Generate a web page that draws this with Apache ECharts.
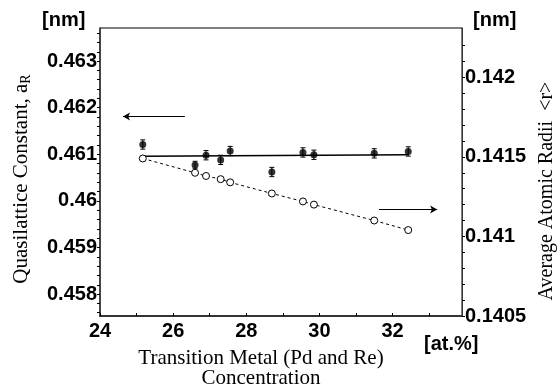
<!DOCTYPE html>
<html>
<head>
<meta charset="utf-8">
<script src="https://cdn.jsdelivr.net/npm/echarts@6/dist/echarts.min.js"></script>
<style>
  html, body { margin: 0; padding: 0; background: #fff; }
  #chart { width: 557px; height: 388px; }
</style>
</head>
<body>
<div id="chart"></div>
<script>
// concentration of Pd + Re, at.%
const concentration = [25.17, 26.6, 26.9, 27.3, 27.56, 28.7, 29.55, 29.85, 31.5, 32.43]
// quasilattice constant a_R (left axis, nm)
const latticeConst = [0.46121, 0.46077, 0.46098, 0.46088, 0.46107, 0.46062, 0.46104, 0.46099, 0.46102, 0.46106]
const latticeErr = [0.0001, 0.00008, 0.0001, 0.0001, 0.0001, 0.0001, 0.0001, 0.0001, 0.0001, 0.0001]
// average atomic radii <r> (right axis, nm)
const atomicRadii = [0.14149, 0.1414, 0.14138, 0.14136, 0.14134, 0.14127, 0.14122, 0.1412, 0.1411, 0.14104]
// fitted line through lattice constants
const fitX = [25.17, 32.43]
const fitY = [0.46096, 0.46099]

const xTicks = [24, 26, 28, 30, 32]
const xMinor = [24, 25, 26, 27, 28, 29, 30, 31, 32, 33]
const leftTicks = [0.458, 0.459, 0.46, 0.461, 0.462, 0.463]
const leftMinor = [0.4576, 0.4578, 0.458, 0.4582, 0.4584, 0.4586, 0.4588, 0.459, 0.4592, 0.4594, 0.4596, 0.4598,
  0.46, 0.4602, 0.4604, 0.4606, 0.4608, 0.461, 0.4612, 0.4614, 0.4616, 0.4618, 0.462, 0.4622, 0.4624, 0.4626,
  0.4628, 0.463, 0.4632, 0.4634, 0.4636]
const rightTicks = [0.1405, 0.141, 0.1415, 0.142]
const rightMinor = [0.1405, 0.1406, 0.1407, 0.1408, 0.1409, 0.141, 0.1411, 0.1412, 0.1413, 0.1414, 0.1415,
  0.1416, 0.1417, 0.1418, 0.1419, 0.142, 0.1421, 0.1422]

const chart = echarts.init(document.getElementById('chart'))

const labelFont = { color: '#000', fontFamily: 'Liberation Sans', fontWeight: 'bold', fontSize: 20 }
const nameFont = { color: '#000', fontFamily: 'Liberation Serif', fontSize: 21 }

const option = {
  animation: false,
  grid: {
    left: 100, right: 95, top: 28, bottom: 72,
    containLabel: false, outerBoundsMode: 'none',
    show: true, borderColor: '#000', borderWidth: 1
  },
  xAxis: {
    type: 'value',
    min: 24,
    max: 33.9,
    name: 'Transition Metal (Pd and Re)\nConcentration',
    nameLocation: 'middle',
    nameGap: 32,
    nameTextStyle: { ...nameFont, lineHeight: 20, padding: [0, 40, 0, 0] },
    axisLine: { lineStyle: { color: '#333', width: 2 } },
    axisTick: { inside: true, length: 3, customValues: xMinor, lineStyle: { color: '#000' } },
    axisLabel: { ...labelFont, margin: 5, customValues: xTicks },
    splitLine: { show: false }
  },
  yAxis: [
    {
      type: 'value',
      position: 'left',
      min: 0.45753,
      max: 0.46371,
      name: 'Quasilattice Constant, a{sub|R}',
      nameLocation: 'middle',
      nameRotate: 90,
      nameGap: 67,
      nameTextStyle: { ...nameFont, padding: [0, 14, 0, 0], rich: { sub: { fontFamily: 'Liberation Serif', fontSize: 14, padding: [10, 0, 0, 0] } } },
      axisLine: { show: true, lineStyle: { color: '#333', width: 1.5 } },
      axisTick: { length: 3, customValues: leftMinor, lineStyle: { color: '#000' } },
      axisLabel: { ...labelFont, margin: 3, customValues: leftTicks },
      splitLine: { show: false }
    },
    {
      type: 'value',
      position: 'right',
      min: 0.1405,
      max: 0.14231,
      name: 'Average Atomic Radii  <r>',
      nameLocation: 'middle',
      nameRotate: 90,
      nameGap: 73,
      nameTextStyle: { ...nameFont, fontSize: 20, padding: [0, 38, 0, 0] },
      axisLine: { show: true, lineStyle: { color: '#333', width: 1 } },
      axisTick: { length: 3, customValues: rightMinor, lineStyle: { color: '#000' } },
      axisLabel: { ...labelFont, margin: 3, customValues: rightTicks },
      splitLine: { show: false }
    }
  ],
  graphic: [
    { type: 'text', left: 42, top: 10, style: { text: '[nm]', ...labelFont, fill: '#000' } },
    { type: 'text', left: 473, top: 10, style: { text: '[nm]', ...labelFont, fill: '#000' } },
    { type: 'text', left: 424, top: 334, style: { text: '[at.%]', ...labelFont, fill: '#000' } }
  ],
  series: [
    {
      name: 'Fit',
      type: 'line',
      yAxisIndex: 0,
      data: fitX.map((x, i) => [x, fitY[i]]),
      showSymbol: false,
      lineStyle: { color: '#000', width: 1.5 },
      markLine: {
        silent: true,
        symbol: ['none', 'arrow'],
        symbolSize: [6, 7],
        label: { show: false },
        lineStyle: { color: '#000', width: 1, type: 'solid' },
        data: [[{ coord: [26.32, 0.46181] }, { coord: [24.63, 0.46181] }]]
      }
    },
    {
      name: 'Error',
      type: 'custom',
      yAxisIndex: 0,
      data: concentration.map((x, i) => [x, latticeConst[i], latticeErr[i]]),
      renderItem: (params, api) => {
        const x = api.value(0)
        const y = api.value(1)
        const e = api.value(2)
        const hi = api.coord([x, y + e])
        const lo = api.coord([x, y - e])
        const style = { stroke: '#000', lineWidth: 1 }
        return {
          type: 'group',
          children: [
            { type: 'line', shape: { x1: hi[0], y1: hi[1], x2: lo[0], y2: lo[1] }, style },
            { type: 'line', shape: { x1: hi[0] - 2.5, y1: hi[1], x2: hi[0] + 2.5, y2: hi[1] }, style },
            { type: 'line', shape: { x1: lo[0] - 2.5, y1: lo[1], x2: lo[0] + 2.5, y2: lo[1] }, style }
          ]
        }
      },
      z: 3
    },
    {
      name: 'Quasilattice Constant',
      type: 'scatter',
      yAxisIndex: 0,
      data: concentration.map((x, i) => [x, latticeConst[i]]),
      symbol: 'circle',
      symbolSize: 7,
      itemStyle: { color: '#000' },
      z: 4
    },
    {
      name: 'Average Atomic Radii',
      type: 'line',
      yAxisIndex: 1,
      data: concentration.map((x, i) => [x, atomicRadii[i]]),
      symbol: 'circle',
      symbolSize: 7,
      lineStyle: { color: '#000', width: 1, type: [3, 3] },
      itemStyle: { color: '#fff', borderColor: '#000', borderWidth: 1 },
      z: 4,
      markLine: {
        silent: true,
        symbol: ['none', 'arrow'],
        symbolSize: [6, 7],
        label: { show: false },
        lineStyle: { color: '#000', width: 1, type: 'solid' },
        data: [[{ coord: [31.63, 0.14117] }, { coord: [33.22, 0.14117] }]]
      }
    }
  ]
}

chart.setOption(option)
</script>
</body>
</html>
